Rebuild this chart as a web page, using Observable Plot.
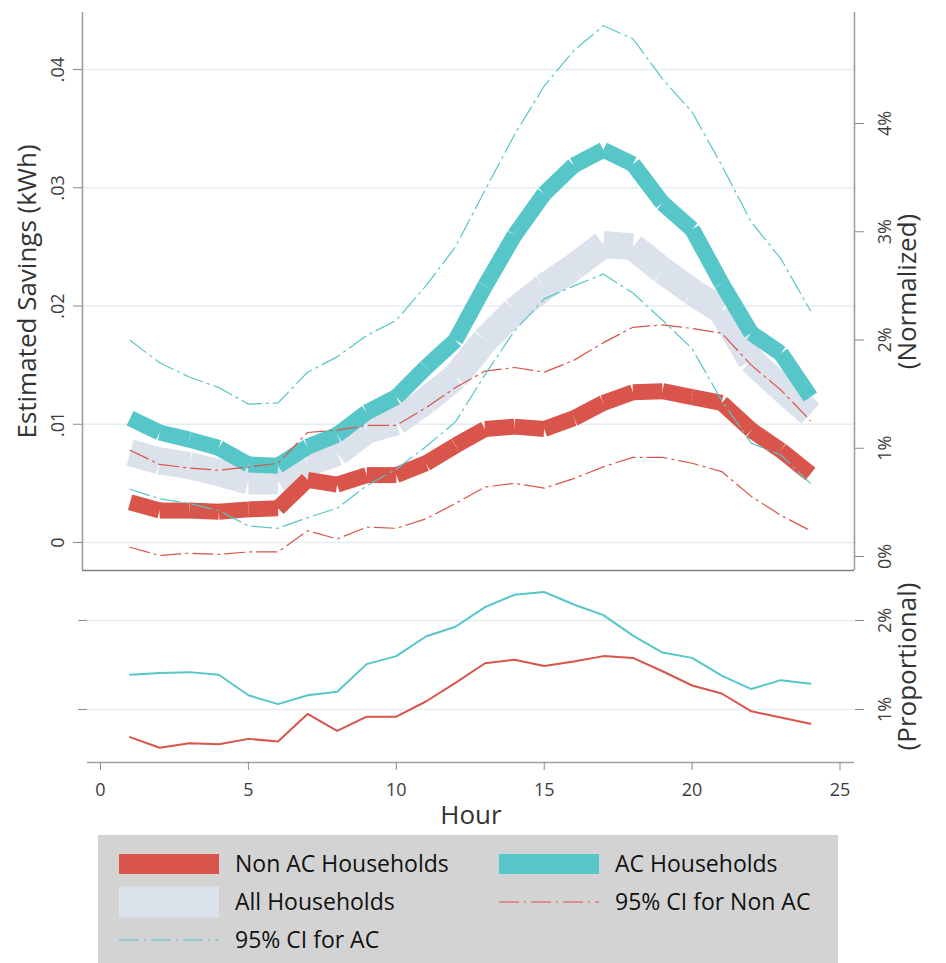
<!DOCTYPE html>
<html><head><meta charset="utf-8">
<script src="https://cdn.jsdelivr.net/npm/d3@7"></script>
<script src="https://cdn.jsdelivr.net/npm/@observablehq/plot@0.6"></script>
<style>
body{margin:0;background:#fff;font-family:"Open Sans",sans-serif;}
#wrap{position:relative;width:946px;height:963px;overflow:hidden;}
#top{position:absolute;left:0;top:0;}
#bot{position:absolute;left:0;top:570px;}
#legend{position:absolute;left:98px;top:835px;width:740px;height:128px;background:#d3d3d3;}
svg{overflow:visible;}
</style></head><body>
<div id="wrap"><div id="top"></div><div id="bot"></div><div id="legend"></div></div>
<script>
// ---------- data ----------
const hours = [1,2,3,4,5,6,7,8,9,10,11,12,13,14,15,16,17,18,19,20,21,22,23,24];
const nonAC = [0.0034,0.0027,0.0027,0.0026,0.0028,0.0029,0.0053,0.0049,0.0057,0.0057,0.0067,0.0082,0.0096,0.0098,0.0096,0.0105,0.0118,0.0127,0.0128,0.0123,0.0118,0.0095,0.0078,0.0058];
const acHH  = [0.0105,0.0093,0.0087,0.0080,0.0066,0.0065,0.0081,0.0091,0.0110,0.0123,0.0148,0.0171,0.0217,0.0260,0.0295,0.0319,0.0332,0.0320,0.0287,0.0265,0.0219,0.0177,0.0160,0.0123];
const allHH = [0.0076,0.0069,0.0065,0.0059,0.0052,0.0052,0.0067,0.0076,0.0095,0.0102,0.0120,0.0140,0.0171,0.0196,0.0216,0.0233,0.0252,0.0250,0.0230,0.0212,0.0196,0.0154,0.0131,0.0109];
const ciNonACHi = [0.0078,0.0066,0.0063,0.0061,0.0064,0.0067,0.0093,0.0095,0.0099,0.0099,0.0114,0.0131,0.0145,0.0148,0.0144,0.0154,0.0169,0.0182,0.0184,0.0181,0.0177,0.0150,0.0129,0.0103];
const ciNonACLo = [-0.0004,-0.0011,-0.0009,-0.0010,-0.0008,-0.0008,0.0010,0.0003,0.0013,0.0012,0.0020,0.0033,0.0047,0.0050,0.0046,0.0054,0.0064,0.0072,0.0072,0.0067,0.0060,0.0039,0.0023,0.0010];
const ciACHi = [0.0171,0.0152,0.0140,0.0131,0.0117,0.0118,0.0144,0.0157,0.0175,0.0188,0.0217,0.0250,0.0298,0.0345,0.0386,0.0416,0.0437,0.0426,0.0392,0.0364,0.0319,0.0271,0.0240,0.0196];
const ciACLo = [0.0045,0.0037,0.0033,0.0027,0.0014,0.0012,0.0021,0.0029,0.0048,0.0062,0.0081,0.0102,0.0142,0.0179,0.0206,0.0217,0.0227,0.0211,0.0188,0.0164,0.0120,0.0084,0.0074,0.0050];
// proportional savings (%)
const propAC    = [1.39,1.41,1.42,1.39,1.16,1.06,1.16,1.20,1.51,1.60,1.82,1.93,2.15,2.29,2.32,2.18,2.06,1.83,1.64,1.58,1.38,1.23,1.33,1.29];
const propNonAC = [0.69,0.57,0.62,0.61,0.67,0.64,0.95,0.76,0.92,0.92,1.09,1.30,1.52,1.56,1.49,1.54,1.60,1.58,1.43,1.27,1.18,0.98,0.91,0.84];

// tick labels
const kwhTicks = [0, 0.01, 0.02, 0.03, 0.04];
const kwhLabels = ["0", ".01", ".02", ".03", ".04"];
const normPct = [0, 1, 2, 3, 4];           // right axis, normalized %
const normZero = -0.001184, kwhPerPct = 0.009154; // kWh value at 0% and per 1%
const propTicks = [1, 2];
const hourTicks = [0, 5, 10, 15, 20, 25];

// colors
const RED = "#d9544a", TEAL = "#56c6c8", GRAY = "#dce2ec";
const TXT = "#3c3c3c";

// ---------- derived tables ----------
const segs = (v) => hours.slice(0, -1).map((h, i) => ({x1: h, y1: v[i], x2: hours[i + 1], y2: v[i + 1]}));
const rows = (v) => hours.map((h, i) => ({h, v: v[i]}));
const normTickVals = normPct.map(p => normZero + p * kwhPerPct);
const kwhLabelMap = new Map(kwhTicks.map((t, i) => [t, kwhLabels[i]]));
const normLabelMap = new Map(normTickVals.map((t, i) => [t, normPct[i] + "%"]));

const xDomTop = [-0.6085, 25.49];
const yDomTop = [-0.002368, 0.04482];
const DASH = "20,5,2,5";

const topPlot = Plot.plot({
  width: 946, height: 572,
  marginLeft: 82, marginRight: 92, marginTop: 12, marginBottom: 2,
  x: {domain: xDomTop, axis: null},
  y: {domain: yDomTop, axis: null},
  style: {fontFamily: "Open Sans", fontSize: "18px", color: TXT, background: "transparent"},
  marks: [
    Plot.gridY(kwhTicks, {stroke: "#e4eef1", strokeOpacity: 1, strokeWidth: 1.6}),
    Plot.ruleX([xDomTop[0]], {stroke: "#9a9a9a", strokeWidth: 1.5}),
    Plot.ruleX([xDomTop[1]], {stroke: "#9a9a9a", strokeWidth: 1.5}),
    Plot.ruleY([yDomTop[0]], {stroke: "#808080", strokeWidth: 1.5}),
    Plot.axisY(kwhTicks, {anchor: "left", tickSize: 9, tickPadding: 10, tickRotate: -90, stroke: "#8a8a8a",
      tickFormat: d => kwhLabelMap.get(d), label: null, fontSize: 18}),
    Plot.axisY(normTickVals, {anchor: "right", tickSize: 9, tickPadding: 27, tickRotate: -90, stroke: "#8a8a8a",
      tickFormat: d => normLabelMap.get(d), label: null, fontSize: 18}),
    Plot.link(segs(allHH), {x1: "x1", y1: "y1", x2: "x2", y2: "y2", stroke: GRAY, strokeWidth: 27, strokeLinecap: "butt"}),
    Plot.link(segs(nonAC), {x1: "x1", y1: "y1", x2: "x2", y2: "y2", stroke: RED, strokeWidth: 16, strokeLinecap: "butt"}),
    Plot.link(segs(acHH), {x1: "x1", y1: "y1", x2: "x2", y2: "y2", stroke: TEAL, strokeWidth: 16, strokeLinecap: "butt"}),
    Plot.line(rows(ciNonACHi), {x: "h", y: "v", stroke: RED, strokeWidth: 1.2, strokeDasharray: DASH}),
    Plot.line(rows(ciNonACLo), {x: "h", y: "v", stroke: RED, strokeWidth: 1.2, strokeDasharray: DASH}),
    Plot.line(rows(ciACHi), {x: "h", y: "v", stroke: TEAL, strokeWidth: 1.2, strokeDasharray: DASH}),
    Plot.line(rows(ciACLo), {x: "h", y: "v", stroke: TEAL, strokeWidth: 1.2, strokeDasharray: DASH}),
    Plot.text(["Estimated Savings (kWh)"], {text: d => d, frameAnchor: "left", rotate: -90, dx: -47,
      textAnchor: "middle", lineAnchor: "bottom", fontSize: 26, fill: "#333"}),
    Plot.text(["(Normalized)"], {text: d => d, frameAnchor: "right", rotate: -90, dx: 61,
      textAnchor: "middle", lineAnchor: "bottom", fontSize: 26, fill: "#333"})
  ]
});
document.getElementById("top").append(topPlot);

const xDomBot = [-0.4395, 25.49];
const yDomBot = [0.4045, 2.562];
const botPlot = Plot.plot({
  width: 946, height: 262,
  marginLeft: 87, marginRight: 92, marginTop: 0, marginBottom: 70,
  x: {domain: xDomBot, axis: null},
  y: {domain: yDomBot, axis: null},
  style: {fontFamily: "Open Sans", fontSize: "18px", color: TXT, background: "transparent"},
  marks: [
    Plot.gridY(propTicks, {stroke: "#e4eef1", strokeOpacity: 1, strokeWidth: 1.6}),
    Plot.ruleY([yDomBot[0]], {stroke: "#a0a0a0", strokeWidth: 1.5}),
    Plot.axisY(propTicks, {anchor: "left", tickSize: 9, stroke: "#8a8a8a", tickFormat: () => "", label: null}),
    Plot.axisY(propTicks, {anchor: "right", tickSize: 9, tickPadding: 27, tickRotate: -90, stroke: "#8a8a8a",
      tickFormat: d => d + "%", label: null, fontSize: 18}),
    Plot.axisX(hourTicks, {anchor: "bottom", tickSize: 8, tickPadding: 13, stroke: "#8a8a8a", label: null, fontSize: 18}),
    Plot.line(rows(propNonAC), {x: "h", y: "v", stroke: RED, strokeWidth: 2}),
    Plot.line(rows(propAC), {x: "h", y: "v", stroke: TEAL, strokeWidth: 2}),
    Plot.text(["(Proportional)"], {text: d => d, frameAnchor: "right", rotate: -90, dx: 61,
      textAnchor: "middle", lineAnchor: "bottom", fontSize: 26, fill: "#333"}),
    Plot.text(["Hour"], {text: d => d, frameAnchor: "bottom", dy: 61,
      textAnchor: "middle", lineAnchor: "bottom", fontSize: 26, fill: "#333"})
  ]
});
document.getElementById("bot").append(botPlot);

// ---------- legend ----------
const legendItems = [
  {label: "Non AC Households", color: RED, kind: "bar", h: 20, col: 0, row: 0},
  {label: "AC Households", color: TEAL, kind: "bar", h: 20, col: 1, row: 0},
  {label: "All Households", color: GRAY, kind: "bar", h: 31, col: 0, row: 1},
  {label: "95% CI for Non AC", color: RED, kind: "dash", col: 1, row: 1},
  {label: "95% CI for AC", color: TEAL, kind: "dash", col: 0, row: 2}
];
const colX = [21, 401], rowY = [29, 67, 105];
const lg = d3.select("#legend").append("svg").attr("width", 740).attr("height", 128)
  .style("font-family", "Open Sans").style("font-size", "23px");
for (const it of legendItems) {
  const x0 = colX[it.col], yc = rowY[it.row];
  if (it.kind === "bar") {
    lg.append("rect").attr("x", x0).attr("y", yc - it.h / 2).attr("width", 100).attr("height", it.h).attr("fill", it.color);
  } else {
    lg.append("line").attr("x1", x0).attr("x2", x0 + 100).attr("y1", yc).attr("y2", yc)
      .attr("stroke", it.color).attr("stroke-width", 1.2).attr("stroke-dasharray", DASH);
  }
  lg.append("text").attr("x", x0 + 116).attr("y", yc).attr("dy", "0.35em").attr("fill", "#111").text(it.label);
}
</script>
</body></html>
